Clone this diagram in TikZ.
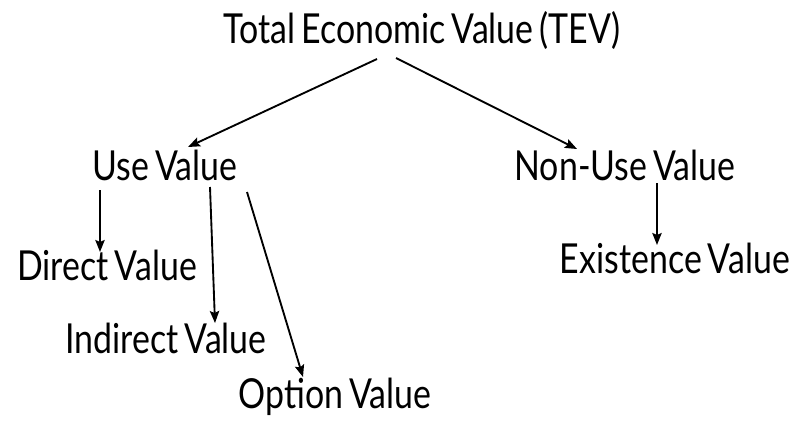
\documentclass[tikz,border=0pt]{standalone}
\usepackage{fontspec}
\setmainfont{Lato}[FakeStretch=0.82,WordSpace=0.7]
\usetikzlibrary{arrows.meta}

\tikzset{
  lbl/.style={anchor=base, inner sep=0pt, font=\fontsize{31pt}{33pt}\selectfont},
  arr/.style={line width=1.4pt, -{Stealth[length=9pt,width=7pt,inset=1.5pt]}}
}

\begin{document}
\begin{tikzpicture}[x=0.75pt,y=-0.75pt]
\useasboundingbox (0,0) rectangle (799,429);
  \node[lbl] (tev) at (422,43) {Total Economic Value (TEV)};
  \node[lbl] (use) at (165,180) {Use Value};
  \node[lbl] (nonuse) at (625,180) {Non-Use Value};
  \node[lbl] (direct) at (107,280) {Direct Value};
  \node[lbl] (indirect) at (166,353) {Indirect Value};
  \node[lbl] (option) at (335,408) {Option Value};
  \node[lbl] (existence) at (675,273) {Existence Value};

  \draw[arr] ([shift={(-45,16)}]tev.base) -- ([shift={(23,-33)}]use.base);
  \draw[arr] ([shift={(-26,15)}]tev.base) -- ([shift={(-48,-31)}]nonuse.base);
  \draw[arr] ([shift={(-65,10)}]use.base) -- ([shift={(-7,-28)}]direct.base);
  \draw[arr] ([shift={(45,7)}]use.base) -- ([shift={(49,-30)}]indirect.base);
  \draw[arr] ([shift={(82,12)}]use.base) -- ([shift={(-32,-31)}]option.base);
  \draw[arr] ([shift={(32,3)}]nonuse.base) -- ([shift={(-18,-28)}]existence.base);
\end{tikzpicture}
\end{document}
